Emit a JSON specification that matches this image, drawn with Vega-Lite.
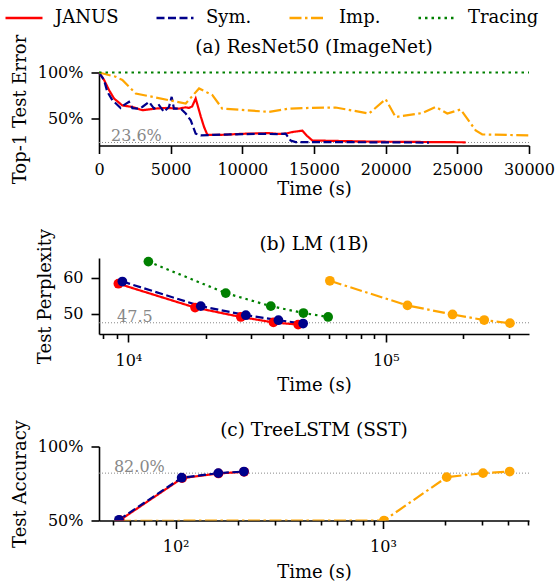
{
  "$schema": "https://vega.github.io/schema/vega-lite/v6.json",
  "background": "white",
  "padding": {"left": 4, "right": 0, "top": -2.5, "bottom": 0},
  "bounds": "flush",
  "datasets": {
    "a": [
      {"method": "JANUS", "time": 0, "value": 100},
      {"method": "JANUS", "time": 350, "value": 92},
      {"method": "JANUS", "time": 700, "value": 80.8},
      {"method": "JANUS", "time": 1050, "value": 71.6},
      {"method": "JANUS", "time": 1630, "value": 64},
      {"method": "JANUS", "time": 2330, "value": 62.4},
      {"method": "JANUS", "time": 3020, "value": 58.8},
      {"method": "JANUS", "time": 3950, "value": 60.6},
      {"method": "JANUS", "time": 4650, "value": 61.3},
      {"method": "JANUS", "time": 5580, "value": 60.6},
      {"method": "JANUS", "time": 6050, "value": 62},
      {"method": "JANUS", "time": 6280, "value": 61.3},
      {"method": "JANUS", "time": 6500, "value": 63},
      {"method": "JANUS", "time": 6745, "value": 71.6},
      {"method": "JANUS", "time": 7100, "value": 52},
      {"method": "JANUS", "time": 7330, "value": 40.5},
      {"method": "JANUS", "time": 7560, "value": 32},
      {"method": "JANUS", "time": 8600, "value": 32},
      {"method": "JANUS", "time": 10230, "value": 33.2},
      {"method": "JANUS", "time": 11860, "value": 33.8},
      {"method": "JANUS", "time": 12500, "value": 33},
      {"method": "JANUS", "time": 13020, "value": 33.2},
      {"method": "JANUS", "time": 13490, "value": 35},
      {"method": "JANUS", "time": 13950, "value": 36},
      {"method": "JANUS", "time": 14190, "value": 36.5},
      {"method": "JANUS", "time": 14500, "value": 31},
      {"method": "JANUS", "time": 14880, "value": 25.8},
      {"method": "JANUS", "time": 16500, "value": 25.3},
      {"method": "JANUS", "time": 19300, "value": 24.5},
      {"method": "JANUS", "time": 22000, "value": 24.2},
      {"method": "JANUS", "time": 25580, "value": 23.8},
      {"method": "Sym.", "time": 0, "value": 100},
      {"method": "Sym.", "time": 350, "value": 91.8},
      {"method": "Sym.", "time": 580, "value": 79},
      {"method": "Sym.", "time": 930, "value": 69.8},
      {"method": "Sym.", "time": 1510, "value": 61.3},
      {"method": "Sym.", "time": 1740, "value": 64.3},
      {"method": "Sym.", "time": 2090, "value": 67.9},
      {"method": "Sym.", "time": 2330, "value": 61},
      {"method": "Sym.", "time": 2790, "value": 60.6},
      {"method": "Sym.", "time": 3020, "value": 62.4},
      {"method": "Sym.", "time": 3490, "value": 67.9},
      {"method": "Sym.", "time": 3840, "value": 60.6},
      {"method": "Sym.", "time": 4190, "value": 64.3},
      {"method": "Sym.", "time": 4530, "value": 57},
      {"method": "Sym.", "time": 4880, "value": 62.4},
      {"method": "Sym.", "time": 5070, "value": 73.4},
      {"method": "Sym.", "time": 5230, "value": 60.6},
      {"method": "Sym.", "time": 5700, "value": 60.6},
      {"method": "Sym.", "time": 6050, "value": 55.2},
      {"method": "Sym.", "time": 6400, "value": 47.8},
      {"method": "Sym.", "time": 6745, "value": 33.2},
      {"method": "Sym.", "time": 7100, "value": 31.3},
      {"method": "Sym.", "time": 8000, "value": 32},
      {"method": "Sym.", "time": 9500, "value": 32.5},
      {"method": "Sym.", "time": 11000, "value": 33},
      {"method": "Sym.", "time": 12500, "value": 32.8},
      {"method": "Sym.", "time": 13020, "value": 33.2},
      {"method": "Sym.", "time": 13370, "value": 25.8},
      {"method": "Sym.", "time": 13720, "value": 24},
      {"method": "Sym.", "time": 16000, "value": 24},
      {"method": "Sym.", "time": 19000, "value": 23.8},
      {"method": "Sym.", "time": 23020, "value": 23.5},
      {"method": "Imp.", "time": 0, "value": 100},
      {"method": "Imp.", "time": 1160, "value": 95.4},
      {"method": "Imp.", "time": 1630, "value": 91.8},
      {"method": "Imp.", "time": 2560, "value": 77.1},
      {"method": "Imp.", "time": 3950, "value": 72.7},
      {"method": "Imp.", "time": 6050, "value": 66.1},
      {"method": "Imp.", "time": 6980, "value": 82.6},
      {"method": "Imp.", "time": 7910, "value": 75.3},
      {"method": "Imp.", "time": 8600, "value": 60.6},
      {"method": "Imp.", "time": 10230, "value": 58.8},
      {"method": "Imp.", "time": 11860, "value": 57},
      {"method": "Imp.", "time": 13260, "value": 60.6},
      {"method": "Imp.", "time": 14650, "value": 61.3},
      {"method": "Imp.", "time": 16510, "value": 61.8},
      {"method": "Imp.", "time": 18840, "value": 55.2},
      {"method": "Imp.", "time": 20000, "value": 70.9},
      {"method": "Imp.", "time": 20690, "value": 51.4},
      {"method": "Imp.", "time": 22560, "value": 55.8},
      {"method": "Imp.", "time": 23490, "value": 62.4},
      {"method": "Imp.", "time": 24300, "value": 55.2},
      {"method": "Imp.", "time": 25230, "value": 59.6},
      {"method": "Imp.", "time": 26280, "value": 36.8},
      {"method": "Imp.", "time": 26740, "value": 32.4},
      {"method": "Imp.", "time": 30000, "value": 31.3},
      {"method": "Tracing", "time": 0, "value": 100},
      {"method": "Tracing", "time": 30000, "value": 100}
    ],
    "b": [
      {"method": "Imp.", "time": 60640, "value": 59.1},
      {"method": "Imp.", "time": 121400, "value": 52.3},
      {"method": "Imp.", "time": 181600, "value": 49.8},
      {"method": "Imp.", "time": 241200, "value": 48.25},
      {"method": "Imp.", "time": 303600, "value": 47.4},
      {"method": "JANUS", "time": 9145, "value": 58.3},
      {"method": "JANUS", "time": 18160, "value": 51.7},
      {"method": "JANUS", "time": 27350, "value": 49.1},
      {"method": "JANUS", "time": 36610, "value": 47.6},
      {"method": "JANUS", "time": 45650, "value": 47.0},
      {"method": "Sym.", "time": 9478, "value": 58.9},
      {"method": "Sym.", "time": 19110, "value": 52.1},
      {"method": "Sym.", "time": 28600, "value": 49.6},
      {"method": "Sym.", "time": 38280, "value": 48.2},
      {"method": "Sym.", "time": 47750, "value": 47.3},
      {"method": "Tracing", "time": 11960, "value": 64.4},
      {"method": "Tracing", "time": 23900, "value": 55.7},
      {"method": "Tracing", "time": 35760, "value": 52.1},
      {"method": "Tracing", "time": 47860, "value": 50.2},
      {"method": "Tracing", "time": 59700, "value": 49.1}
    ],
    "c": [
      {"method": "Imp.", "time": 53.3, "value": 49.8},
      {"method": "Imp.", "time": 1011, "value": 50.0},
      {"method": "Imp.", "time": 2029, "value": 79.3},
      {"method": "Imp.", "time": 3037, "value": 82.0},
      {"method": "Imp.", "time": 4083, "value": 83.1},
      {"method": "JANUS", "time": 53.8, "value": 50.2},
      {"method": "JANUS", "time": 107.5, "value": 78.6},
      {"method": "JANUS", "time": 161, "value": 81.8},
      {"method": "JANUS", "time": 214, "value": 82.9},
      {"method": "Sym.", "time": 53.3, "value": 50.5},
      {"method": "Sym.", "time": 106.9, "value": 78.9},
      {"method": "Sym.", "time": 160.6, "value": 82.0},
      {"method": "Sym.", "time": 213.5, "value": 83.1}
    ],
    "refs": [
      {"panel": "a", "time": 837, "value": 23.6, "label": "23.6%"},
      {"panel": "b", "time": 9040, "value": 47.5, "label": "47.5"},
      {"panel": "c", "time": 50.4, "value": 82.0, "label": "82.0%"}
    ]
  },
  "vconcat": [
    {
      "title": {"text": "(a) ResNet50 (ImageNet)", "offset": -22.5, "fontSize": 18.5},
      "width": 430,
      "height": 73,
      "layer": [
        {
          "data": {"name": "refs"},
          "transform": [{"filter": "datum.panel == 'a'"}],
          "mark": {"type": "rule", "color": "#888888", "strokeWidth": 1, "strokeDash": [1, 2]},
          "encoding": {"y": {"field": "value", "type": "quantitative"}}
        },
        {
          "data": {"name": "refs"},
          "transform": [{"filter": "datum.panel == 'a'"}],
          "mark": {"type": "text", "color": "#888888", "font": "DejaVu Serif", "fontSize": 16, "align": "left", "baseline": "bottom", "dy": 2},
          "encoding": {
            "x": {"field": "time", "type": "quantitative"},
            "y": {"field": "value", "type": "quantitative"},
            "text": {"field": "label"}
          }
        },
        {
          "data": {"name": "a"},
          "mark": {"type": "line", "strokeWidth": 2.2},
          "encoding": {
            "x": {"field": "time", "type": "quantitative", "scale": {"domain": [0, 30000], "nice": false, "zero": false},
                  "axis": {"title": "Time (s)", "titlePadding": 3, "values": [0, 5000, 10000, 15000, 20000, 25000, 30000], "format": "d"}},
            "y": {"field": "value", "type": "quantitative", "scale": {"domain": [20.3, 100], "nice": false, "zero": false},
                  "axis": {"title": "Top-1 Test Error", "values": [50, 100], "labelExpr": "datum.value + '%'"}},
            "color": {"field": "method", "type": "nominal", "scale": {"domain": ["JANUS", "Sym.", "Imp.", "Tracing"], "range": ["#ff0000", "#00008b", "#ffa500", "#008000"]}},
            "strokeDash": {"field": "method", "type": "nominal", "scale": {"domain": ["JANUS", "Sym.", "Imp.", "Tracing"], "range": [[1, 0], [8, 3.5], [12, 3.5, 2.5, 3.5], [2.5, 4]]}}
          }
        }
      ]
    },
    {
      "title": {"text": "(b) LM (1B)", "offset": -25, "fontSize": 18.5},
      "width": 430,
      "height": 76,
      "layer": [
        {
          "data": {"name": "refs"},
          "transform": [{"filter": "datum.panel == 'b'"}],
          "mark": {"type": "rule", "color": "#888888", "strokeWidth": 1, "strokeDash": [1, 2]},
          "encoding": {"y": {"field": "value", "type": "quantitative"}}
        },
        {
          "data": {"name": "refs"},
          "transform": [{"filter": "datum.panel == 'b'"}],
          "mark": {"type": "text", "color": "#888888", "font": "DejaVu Serif", "fontSize": 16, "align": "left", "baseline": "bottom", "dy": 2},
          "encoding": {
            "x": {"field": "time", "type": "quantitative"},
            "y": {"field": "value", "type": "quantitative"},
            "text": {"field": "label"}
          }
        },
        {
          "data": {"name": "b"},
          "mark": {"type": "line", "strokeWidth": 2.2},
          "encoding": {
            "x": {"field": "time", "type": "quantitative", "scale": {"type": "log", "domain": [7690, 360000], "nice": false},
                  "axis": {"title": "Time (s)", "titlePadding": 8, "labelPadding": 10, "values": [8000, 9000, 10000, 20000, 30000, 40000, 50000, 60000, 70000, 80000, 90000, 100000, 200000, 300000],
                           "labelExpr": "datum.value == 10000 ? '10⁴' : (datum.value == 100000 ? '10⁵' : '')",
                           "tickSize": {"condition": {"test": "datum.value == 10000 || datum.value == 100000", "value": 8}, "value": 4.5}}},
            "y": {"field": "value", "type": "quantitative", "scale": {"domain": [44.4, 65.4], "nice": false, "zero": false},
                  "axis": {"title": "Test Perplexity", "values": [50, 60]}},
            "color": {"field": "method", "type": "nominal", "scale": {"domain": ["JANUS", "Sym.", "Imp.", "Tracing"], "range": ["#ff0000", "#00008b", "#ffa500", "#008000"]}},
            "strokeDash": {"field": "method", "type": "nominal", "scale": {"domain": ["JANUS", "Sym.", "Imp.", "Tracing"], "range": [[1, 0], [8, 3.5], [12, 3.5, 2.5, 3.5], [2.5, 4]]}}
          }
        },
        {
          "data": {"name": "b"},
          "mark": {"type": "point", "filled": true, "opacity": 1, "size": 95},
          "encoding": {
            "x": {"field": "time", "type": "quantitative"},
            "y": {"field": "value", "type": "quantitative"},
            "color": {"field": "method", "type": "nominal", "scale": {"domain": ["JANUS", "Sym.", "Imp.", "Tracing"], "range": ["#ff0000", "#00008b", "#ffa500", "#008000"]}}
          }
        }
      ]
    },
    {
      "title": {"text": "(c) TreeLSTM (SST)", "offset": -19.5, "fontSize": 18.5},
      "width": 430,
      "height": 74,
      "layer": [
        {
          "data": {"name": "refs"},
          "transform": [{"filter": "datum.panel == 'c'"}],
          "mark": {"type": "rule", "color": "#888888", "strokeWidth": 1, "strokeDash": [1, 2]},
          "encoding": {"y": {"field": "value", "type": "quantitative"}}
        },
        {
          "data": {"name": "refs"},
          "transform": [{"filter": "datum.panel == 'c'"}],
          "mark": {"type": "text", "color": "#888888", "font": "DejaVu Serif", "fontSize": 16, "align": "left", "baseline": "bottom", "dy": 2},
          "encoding": {
            "x": {"field": "time", "type": "quantitative"},
            "y": {"field": "value", "type": "quantitative"},
            "text": {"field": "label"}
          }
        },
        {
          "data": {"name": "c"},
          "mark": {"type": "line", "strokeWidth": 2.2, "clip": true},
          "encoding": {
            "x": {"field": "time", "type": "quantitative", "scale": {"type": "log", "domain": [42.7, 5060], "nice": false},
                  "axis": {"title": "Time (s)", "titlePadding": 9, "labelPadding": 10, "values": [50, 60, 70, 80, 90, 100, 200, 300, 400, 500, 600, 700, 800, 900, 1000, 2000, 3000, 4000, 5000],
                           "labelExpr": "datum.value == 100 ? '10²' : (datum.value == 1000 ? '10³' : '')",
                           "tickSize": {"condition": {"test": "datum.value == 100 || datum.value == 1000", "value": 8}, "value": 4.5}}},
            "y": {"field": "value", "type": "quantitative", "scale": {"domain": [50, 100], "nice": false, "zero": false},
                  "axis": {"title": "Test Accuracy", "values": [50, 75, 100], "labelExpr": "datum.value + '%'"}},
            "color": {"field": "method", "type": "nominal", "scale": {"domain": ["JANUS", "Sym.", "Imp.", "Tracing"], "range": ["#ff0000", "#00008b", "#ffa500", "#008000"]}},
            "strokeDash": {"field": "method", "type": "nominal", "scale": {"domain": ["JANUS", "Sym.", "Imp.", "Tracing"], "range": [[1, 0], [8, 3.5], [12, 3.5, 2.5, 3.5], [2.5, 4]]}}
          }
        },
        {
          "data": {"name": "c"},
          "mark": {"type": "point", "filled": true, "opacity": 1, "size": 95, "clip": true},
          "encoding": {
            "x": {"field": "time", "type": "quantitative"},
            "y": {"field": "value", "type": "quantitative"},
            "color": {"field": "method", "type": "nominal", "scale": {"domain": ["JANUS", "Sym.", "Imp.", "Tracing"], "range": ["#ff0000", "#00008b", "#ffa500", "#008000"]}}
          }
        }
      ]
    }
  ],
  "spacing": 112.5,
  "resolve": {"scale": {"color": "shared", "strokeDash": "shared"}, "legend": {"color": "shared", "strokeDash": "shared"}},
  "config": {
    "font": "DejaVu Serif",
    "view": {"stroke": null},
    "title": {"font": "DejaVu Serif", "fontSize": 18, "fontWeight": "normal", "color": "black", "anchor": "middle"},
    "axis": {
      "grid": false, "domainColor": "black", "domainWidth": 1.6, "tickColor": "black", "tickWidth": 1.6, "tickSize": 8,
      "labelFont": "DejaVu Serif", "titleFont": "DejaVu Serif",
      "labelFontSize": 16, "labelColor": "black", "titleFontSize": 18, "titleFontWeight": "normal", "titleColor": "black",
      "labelPadding": 8, "labelFlush": false, "labelOverlap": false
    },
    "axisX": {"titlePadding": 2},
    "axisY": {"titlePadding": 8},
    "legend": {
      "orient": "none", "legendX": -95, "legendY": -74.5, "direction": "horizontal", "title": null,
      "labelFont": "DejaVu Serif", "labelFontSize": 18, "labelColor": "black",
      "symbolType": "stroke", "symbolStrokeWidth": 2.5, "symbolSize": 1369, "labelOffset": 11, "columnPadding": 32
    }
  }
}
